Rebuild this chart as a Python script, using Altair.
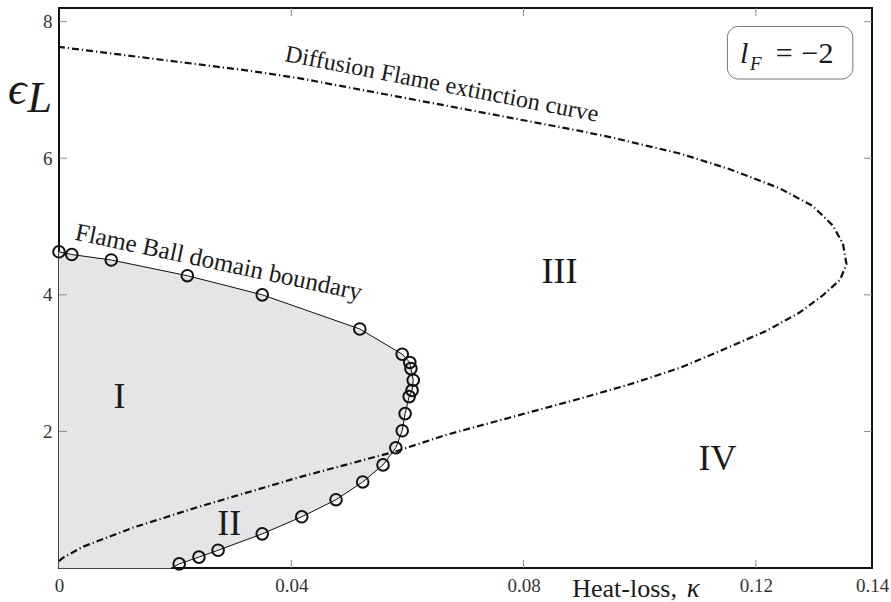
import altair as alt
import pandas as pd

# Flame Ball domain boundary: computed points (kappa, epsilon_L)
fb_kappa = [0.0207, 0.0241, 0.0274, 0.0350, 0.0418, 0.0477, 0.0523, 0.0558, 0.0580,
            0.0591, 0.0596, 0.0603, 0.0608, 0.0610, 0.0606, 0.0604, 0.0591, 0.0518,
            0.0350, 0.0221, 0.0090, 0.0022, 0.0]
fb_eps = [0.06, 0.16, 0.26, 0.50, 0.75, 1.00, 1.26, 1.51, 1.76,
          2.01, 2.26, 2.51, 2.60, 2.75, 2.92, 3.01, 3.13, 3.50,
          4.00, 4.28, 4.51, 4.59, 4.63]
# where the boundary meets the kappa axis
fb_foot_kappa = 0.0193

# Diffusion Flame extinction curve, lower branch to nose to upper branch
df_kappa = [0.0, 0.0007, 0.0041, 0.0127, 0.0242, 0.0414, 0.0581, 0.0667, 0.0810,
            0.0897, 0.0983, 0.1069, 0.1150, 0.1220, 0.1275, 0.1315, 0.1345, 0.1356,
            0.1350, 0.1332, 0.1298, 0.1241, 0.1155, 0.1069, 0.0954, 0.0897, 0.0673,
            0.0415, 0.0329, 0.0]
df_eps = [0.10, 0.15, 0.31, 0.59, 0.90, 1.33, 1.71, 1.95, 2.28,
          2.48, 2.69, 2.93, 3.22, 3.48, 3.74, 3.99, 4.22, 4.45,
          4.75, 5.02, 5.30, 5.56, 5.84, 6.07, 6.30, 6.40, 6.76,
          7.17, 7.28, 7.63]

# Region labels
region_text = ["I", "II", "III", "IV"]
region_kappa = [0.0104, 0.0293, 0.0862, 0.1134]
region_eps = [2.51, 0.64, 4.34, 1.59]

x_ticks = [0.04, 0.08, 0.12]
y_ticks = [2, 4, 6, 8]
x_labels = [0, 0.04, 0.08, 0.12, 0.14]

X_DOM = [0, 0.14]
Y_DOM = [0, 8.2]
FONT = "Liberation Serif"
INK = "#1a1a1a"

X_AXIS = alt.Axis(values=x_labels, ticks=False, domain=False, grid=False,
                  labelExpr="datum.value == 0 ? '0' : format(datum.value, '.2f')",
                  labelFont=FONT, labelFontSize=19, labelColor="#333",
                  labelPadding=8, labelFlush=False)
Y_AXIS = alt.Axis(values=y_ticks, format="d", ticks=False, domain=False, grid=False,
                  labelFont=FONT, labelFontSize=19, labelColor="#333", labelPadding=7)


def X(field):
    return alt.X(field, scale=alt.Scale(domain=X_DOM, nice=False, zero=False),
                 axis=X_AXIS, title=None)


def Y(field):
    return alt.Y(field, scale=alt.Scale(domain=Y_DOM, nice=False, zero=False),
                 axis=Y_AXIS, title=None)


fb = pd.DataFrame({"k": fb_kappa, "e": fb_eps, "i": range(len(fb_kappa))})
fb_line = pd.DataFrame({"k": [fb_foot_kappa] + fb_kappa, "e": [0.0] + fb_eps,
                        "i": range(len(fb_kappa) + 1)})
# closed outline of the Flame Ball domain: origin, along the boundary, back down the eps axis
fb_poly = pd.DataFrame({"k": [0.0] + list(fb_line["k"]), "e": [0.0] + list(fb_line["e"]),
                        "i": range(len(fb_line) + 1)})
dfl = pd.DataFrame({"k": df_kappa, "e": df_eps, "i": range(len(df_kappa))})
regions = pd.DataFrame({"t": region_text, "k": region_kappa, "e": region_eps})

shade = alt.Chart(fb_poly).mark_line(
    fill="#e4e5e7", stroke="#e4e5e7", strokeWidth=0.5, interpolate="linear-closed"
).encode(x=X("k:Q"), y=Y("e:Q"), order=alt.Order("i:Q"))

extinction = alt.Chart(dfl).mark_line(
    color="#111", strokeWidth=2.2, strokeDash=[7, 3, 1.2, 3]
).encode(x=X("k:Q"), y=Y("e:Q"), order=alt.Order("i:Q"))

boundary = alt.Chart(fb_line).mark_line(color="#111", strokeWidth=1).encode(
    x=X("k:Q"), y=Y("e:Q"), order=alt.Order("i:Q"),
)

circles = alt.Chart(fb).mark_point(
    shape="circle", filled=False, size=135, color="#111", strokeWidth=2, opacity=1
).encode(x=X("k:Q"), y=Y("e:Q"))

region_labels = alt.Chart(regions).mark_text(
    font=FONT, fontSize=36, color=INK, baseline="middle"
).encode(x=X("k:Q"), y=Y("e:Q"), text="t:N")


def note(text, k, e, size, angle=0, style="normal", align="center", baseline="middle",
         color=INK):
    d = pd.DataFrame({"t": [text], "k": [k], "e": [e]})
    props = dict(font=FONT, fontSize=size, color=color, align=align, baseline=baseline,
                 fontStyle=style)
    if angle:
        props["angle"] = angle
    return alt.Chart(d).mark_text(**props).encode(x=X("k:Q"), y=Y("e:Q"), text="t:N")


curve_notes = [
    note("Flame Ball domain boundary", 0.0275, 4.48, 25, angle=12),
    note("Diffusion Flame extinction curve", 0.0659, 7.08, 24, angle=11),
]

# parameter box
box = alt.Chart(pd.DataFrame({"k": [0.1151], "k2": [0.1367], "e": [7.93], "e2": [7.16]})).mark_rect(
    fill="white", stroke="#777", strokeWidth=1, cornerRadius=11
).encode(x=X("k:Q"), x2="k2:Q", y=Y("e:Q"), y2="e2:Q")
box_text = [
    note("l", 0.1180, 7.40, 30, style="italic", baseline="alphabetic"),
    note("F", 0.1200, 7.29, 19, style="italic", baseline="alphabetic"),
    note("=", 0.1249, 7.40, 30, baseline="alphabetic"),
    note("−2", 0.1306, 7.40, 30, baseline="alphabetic"),
]

# axis titles
titles = [
    note("ϵ", -0.0072, 6.80, 46, style="italic", baseline="alphabetic"),
    note("L", -0.0033, 6.67, 44, style="italic", baseline="alphabetic"),
    note("Heat-loss,", 0.1064, -0.42, 26, align="right", baseline="alphabetic"),
    note("κ", 0.1092, -0.42, 27, style="italic", baseline="alphabetic"),
]

# inward tick marks on all four sides
tick_len_k = 8 / 5808
tick_len_e = 8 / 68.25
xt = pd.DataFrame({"k": x_ticks * 2,
                   "e": [0.0] * 3 + [Y_DOM[1]] * 3,
                   "e2": [tick_len_e] * 3 + [Y_DOM[1] - tick_len_e] * 3})
yt = pd.DataFrame({"e": y_ticks * 2,
                   "k": [0.0] * 4 + [X_DOM[1]] * 4,
                   "k2": [tick_len_k] * 4 + [X_DOM[1] - tick_len_k] * 4})
xticks = alt.Chart(xt).mark_rule(color="#888", strokeWidth=1).encode(
    x=X("k:Q"), y=Y("e:Q"), y2="e2:Q",
)
yticks = alt.Chart(yt).mark_rule(color="#888", strokeWidth=1).encode(
    y=Y("e:Q"), x=X("k:Q"), x2="k2:Q",
)

chart = alt.layer(
    shade, extinction, boundary, circles, region_labels, *curve_notes, box, *box_text,
    *titles, xticks, yticks
).properties(
    width=813, height=560,
    autosize=alt.AutoSizeParams(type="none"),
    padding={"left": 59, "top": 8, "right": 19, "bottom": 34},
    background="white",
).configure_view(stroke="#111", strokeWidth=2)

chart.save("out.html", embed_options={"renderer": "svg", "actions": False})
